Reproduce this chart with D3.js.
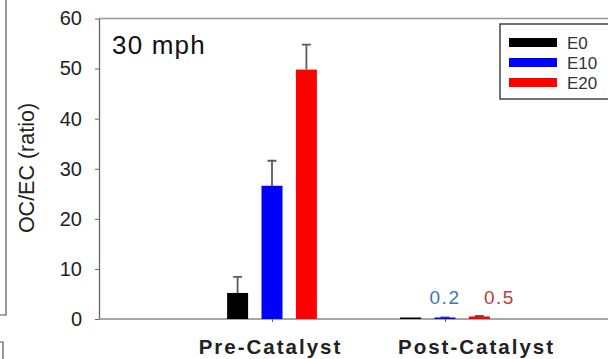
<!DOCTYPE html>
<html>
<head>
<meta charset="utf-8">
<script src="https://cdn.jsdelivr.net/npm/d3@7"></script>
<style>
  body { margin: 0; background: #fff; }
  svg { display: block; font-family: "Liberation Sans", Arial, sans-serif; }
</style>
</head>
<body>
<div id="chart"></div>
<script>
"use strict";

var categories = ["Pre-Catalyst", "Post-Catalyst"];
var series = ["E0", "E10", "E20"];
var colors = ["#000000", "#0000ff", "#ff0000"];
// OC/EC ratio, rows follow categories, columns follow series
var values = [[5.2, 26.6, 49.8], [0.05, 0.2, 0.5]];
var errors = [[3.2, 5.0, 5.0], [0.0, 0.1, 0.1]];
var yTicks = [0, 10, 20, 30, 40, 50, 60];
var valueLabels = [{ cat: "Post-Catalyst", s: "E10", text: "0.2", color: "#3a78b8" },
                   { cat: "Post-Catalyst", s: "E20", text: "0.5", color: "#c23a3a", dx: 20 }];

var width = 608, height = 359;
var plotLeft = 99, plotTop = 18.5, plotBottom = 319;

var svg = d3.select("#chart").append("svg")
    .attr("width", width)
    .attr("height", height);

// fragments of the neighbouring panels cut off at the left edge
svg.append("path")
    .attr("d", "M6,0V315H0 M0,342H3V359")
    .attr("fill", "none").attr("stroke", "#555").attr("stroke-width", 1.2);

var x0 = d3.scalePoint().domain(categories).range([plotLeft, 618]).padding(1);
var x1 = d3.scalePoint().domain(series).range([-34.4, 34.4]);
var color = d3.scaleOrdinal().domain(series).range(colors);
var y = d3.scaleLinear().domain([0, 60]).range([plotBottom, plotTop]);
var barW = 21;

// frame top
svg.append("line")
    .attr("x1", plotLeft).attr("x2", width).attr("y1", plotTop).attr("y2", plotTop)
    .attr("stroke", "#999").attr("stroke-width", 1.5);

// y axis
var yAxis = svg.append("g")
    .attr("transform", "translate(" + plotLeft + ",0)")
    .call(d3.axisLeft(y).tickValues(yTicks).tickSize(4).tickSizeOuter(0));
yAxis.select(".domain").attr("stroke", "#666").attr("stroke-width", 1.3);
yAxis.selectAll(".tick line").attr("stroke", "#666");
yAxis.selectAll(".tick text")
    .attr("x", -17)
    .attr("fill", "#222")
    .style("font-size", "20px")
    .style("font-family", "Liberation Sans, Arial, sans-serif");

// x axis
var xAxis = svg.append("g")
    .attr("transform", "translate(0," + plotBottom + ")")
    .call(d3.axisBottom(x0).tickSize(3).tickSizeOuter(0));
xAxis.select(".domain").attr("stroke", "#888").attr("stroke-width", 1.5)
    .attr("d", "M" + plotLeft + ",0H" + width);
xAxis.selectAll(".tick line").attr("stroke", "#666");
xAxis.selectAll(".tick text")
    .attr("x", function(d) { return d === "Post-Catalyst" ? 31 : -2; })
    .attr("y", 20)
    .attr("dy", "0.71em")
    .attr("fill", "#222")
    .style("font-size", "20.5px")
    .style("font-weight", "bold")
    .style("letter-spacing", "2px")
    .style("font-family", "Liberation Sans, Arial, sans-serif");

// y title
svg.append("text")
    .attr("transform", "translate(34,168) rotate(-90)")
    .attr("text-anchor", "middle")
    .attr("fill", "#222")
    .style("font-size", "21.5px")
    .text("OC/EC (ratio)");

// bars
var rows = [];
categories.forEach(function(c, i) {
    series.forEach(function(s, j) {
        rows.push({ cat: c, s: s, v: values[i][j], e: errors[i][j] });
    });
});

var groups = svg.selectAll(".bar")
    .data(rows)
    .enter().append("g")
    .attr("class", "bar")
    .attr("transform", function(d) {
        return "translate(" + (x0(d.cat) + x1(d.s)) + ",0)";
    });

groups.filter(function(d) { return d.e > 0; }).append("path")
    .attr("d", function(d) {
        return "M0," + y(d.v) + "V" + y(d.v + d.e) + "M-4.5," + y(d.v + d.e) + "H4.5";
    })
    .attr("fill", "none")
    .attr("stroke", "#5a5a6a")
    .attr("stroke-width", 1.8);

groups.append("rect")
    .attr("x", -barW / 2)
    .attr("width", barW)
    .attr("y", function(d) { return Math.min(y(d.v), plotBottom - 1.5); })
    .attr("height", function(d) { return Math.max(plotBottom - y(d.v), 1.5); })
    .attr("fill", function(d) { return color(d.s); });

// value labels above the small post-catalyst bars
svg.selectAll(".vlabel")
    .data(valueLabels)
    .enter().append("text")
    .attr("class", "vlabel")
    .attr("x", function(d) { return x0(d.cat) + x1(d.s) + (d.dx || 0); })
    .attr("y", 304)
    .attr("text-anchor", "middle")
    .attr("fill", function(d) { return d.color; })
    .style("font-size", "19px")
    .style("letter-spacing", "1.5px")
    .text(function(d) { return d.text; });

// panel label
svg.append("text")
    .attr("x", 112)
    .attr("y", 54)
    .attr("fill", "#111")
    .style("font-size", "26px")
    .style("letter-spacing", "1.2px")
    .text("30 mph");

// legend
var legend = svg.append("g");
legend.append("rect")
    .attr("x", 500).attr("y", 24)
    .attr("width", 120).attr("height", 75)
    .attr("fill", "#fff")
    .attr("stroke", "#444").attr("stroke-width", 1.5);

var item = legend.selectAll(".item")
    .data(series)
    .enter().append("g")
    .attr("class", "item")
    .attr("transform", function(d, i) { return "translate(509," + (42.5 + i * 20) + ")"; });
item.append("rect")
    .attr("y", -4.5).attr("width", 48).attr("height", 9)
    .attr("fill", function(d) { return color(d); });
item.append("text")
    .attr("x", 58)
    .attr("dy", "0.36em")
    .attr("fill", "#333")
    .style("font-size", "17px")
    .text(function(d) { return d; });
</script>
</body>
</html>
